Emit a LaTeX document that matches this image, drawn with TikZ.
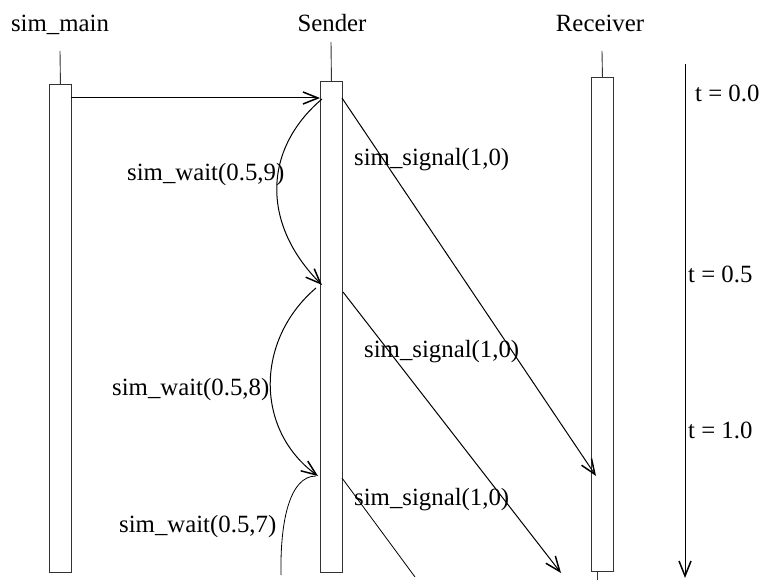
\documentclass[tikz,border=0pt]{standalone}
\usepackage{fontspec}
\setmainfont{Liberation Serif}
\usetikzlibrary{arrows.meta}
\begin{document}
\begin{tikzpicture}[x=1pt,y=-1pt,
  lbl/.style={font=\fontsize{24.8}{26}\selectfont, inner sep=0pt, anchor=base west},
  head/.style={font=\fontsize{24.8}{26}\selectfont, inner sep=0pt, anchor=base},
  life/.style={draw=black!80, line width=0.9pt, inner sep=0pt, minimum width=22pt, anchor=north west},
  stem/.style={draw=black!80, line width=0.9pt},
  barb/.style={-{Straight Barb[length=15pt,width=12pt,line width=1.5pt]}},
  msg/.style={draw=black, line width=1pt, barb},
  cut/.style={draw=black, line width=0.8pt},
  wait/.style={draw=black, line width=1pt, barb}]
\useasboundingbox (0,0) rectangle (762,580);

% object headers
\node[head] (hmain) at (60,32) {sim\_main};
\node[head] (hsend) at (332,32) {Sender};
\node[head] (hrecv) at (600,32) {Receiver};

% activation boxes
\node[life, minimum height=488pt] (mainbox) at (49,84) {};
\node[life, minimum height=491pt] (sendbox) at (320,81) {};
\node[life, minimum height=494pt] (recvbox) at (591,77) {};

% lifeline stubs
\coordinate (mtop) at (60,51);
\coordinate (stop) at (331,42);
\coordinate (rtop) at (602,51);
\draw[stem] (mtop) -- (mainbox.north);
\draw[stem] (stop) -- (sendbox.north);
\draw[stem] (rtop) -- (recvbox.north);
\coordinate (rbot) at (597,580);
\draw[stem] (recvbox.south -| rbot) -- (rbot);

% call from sim_main to Sender
\coordinate (callA) at (71,98);
\coordinate (callB) at (320,98);
\draw[msg] (callA) -- (callB);

% sim_wait self-messages on the Sender
\coordinate (w1a) at (322,99);
\coordinate (w1b) at (322,285);
\draw[wait] (w1a) .. controls (262,150) and (262,225) .. (w1b);
\coordinate (w2a) at (316,288);
\coordinate (w2b) at (318,476);
\draw[wait] (w2a) .. controls (255,340) and (255,430) .. (w2b);
\coordinate (w3a) at (316,476);
\coordinate (w3b) at (281,575);
\draw[cut] (w3a) .. controls (290,476) and (280,520) .. (w3b);

% sim_signal messages towards the Receiver
\coordinate (s1a) at (342,98);
\coordinate (s1b) at (596,476);
\draw[msg] (s1a) -- (s1b);
\coordinate (s2a) at (343,292);
\coordinate (s2b) at (561,573);
\draw[msg] (s2a) -- (s2b);
\coordinate (s3a) at (342,478);
\coordinate (s3b) at (415,577);
\draw[cut] (s3a) -- (s3b);

% labels
\node[lbl] (l1) at (127,180) {sim\_wait(0.5,9)};
\node[lbl] (l2) at (112,395) {sim\_wait(0.5,8)};
\node[lbl] (l3) at (119,532) {sim\_wait(0.5,7)};
\node[lbl] (g1) at (354,165) {sim\_signal(1,0)};
\node[lbl] (g2) at (364,357) {sim\_signal(1,0)};
\node[lbl] (g3) at (354,505) {sim\_signal(1,0)};

% time axis
\coordinate (ttop) at (685,64);
\coordinate (tbot) at (685,578);
\draw[msg] (ttop) -- (tbot);
\node[lbl] (t0) at (695,102) {t = 0.0};
\node[lbl] (t5) at (688,282) {t = 0.5};
\node[lbl] (t10) at (688,438) {t = 1.0};
\end{tikzpicture}
\end{document}
